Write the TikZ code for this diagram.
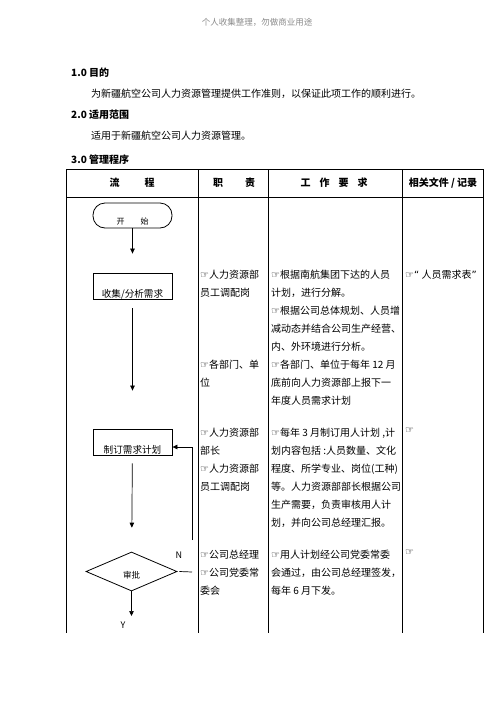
\documentclass[tikz,border=0pt]{standalone}
\usepackage{fontspec}
\setmainfont{Noto Sans CJK SC}
\newfontfamily\symfont{DejaVu Sans}
\usetikzlibrary{arrows.meta,shapes.geometric}
\definecolor{ink}{HTML}{000000}
\definecolor{muted}{HTML}{8A8A8A}
\newcommand{\hand}{{\symfont ☞}}
\tikzset{
  rule/.style={draw=ink, line width=0.7pt},
  flow/.style={draw=ink, line width=0.7pt, -{Triangle[length=5pt,width=4.5pt]}},
  termbox/.style={draw=ink, line width=0.8pt, rounded corners=12pt, minimum width=79pt, minimum height=25pt, inner sep=0pt, text height=17pt, text depth=0pt, font=\fontsize{8}{8}\selectfont},
  procbox/.style={draw=ink, line width=0.8pt, minimum width=79pt, minimum height=26pt, inner sep=0pt, text height=22pt, text depth=0pt, font=\fontsize{9.6}{9.6}\selectfont},
  decision/.style={diamond, draw=ink, line width=0.8pt, minimum width=91pt, minimum height=39pt, inner sep=0pt, text height=14pt, text depth=0pt, font=\fontsize{8.5}{8.5}\selectfont},
  cell/.style={anchor=north west, align=left, inner sep=0pt, font=\fontsize{10}{18}\selectfont},
  head/.style={inner sep=0pt, font=\bfseries\fontsize{10}{10}\selectfont},
  body/.style={anchor=west, inner sep=0pt, font=\fontsize{10}{10}\selectfont},
}

\begin{document}
\begin{tikzpicture}[x=1pt,y=-1pt]
\useasboundingbox (0,0) rectangle (496,702);

% page header and sections
\node[inner sep=0pt, text=muted, font=\fontsize{8.5}{8.5}\selectfont] (pagehead) at (257,22) {个人收集整理，勿做商业用途};
\node[body, font=\bfseries\fontsize{10}{10}\selectfont] (sec1) at (71,73) {1.0 目的};
\node[body] (sec1txt) at (91,94) {为新疆航空公司人力资源管理提供工作准则，以保证此项工作的顺利进行。};
\node[body, font=\bfseries\fontsize{10}{10}\selectfont] (sec2) at (71,115) {2.0 适用范围};
\node[body] (sec2txt) at (91,136) {适用于新疆航空公司人力资源管理。};
\node[body, font=\bfseries\fontsize{10}{10}\selectfont] (sec3) at (71,160) {3.0 管理程序};

% table grid
\draw[rule] (66,169) -- (483,169);
\draw[rule] (66,197) -- (483,197);
\foreach \x in {66,198,268,402,483}
  \draw[rule] (\x,169) -- (\x,633);

% header row
\node[head] (hflow) at (132,183) {流\hspace{25pt}程};
\node[head] (hduty) at (234,183) {职\hspace{22pt}责};
\node[head] (hwork) at (334,183) {工\hspace{9pt}作\hspace{9pt}要\hspace{9pt}求};
\node[head] (hdocs) at (443,183) {相关文件 / 记录};

% flow chart
\node[termbox] (start) at (132.5,215.5) {开\hspace{16pt}始};
\node[procbox] (collect) at (132.5,286) {收集/分析需求};
\node[procbox] (plan) at (132.5,442) {制订需求计划};
\node[decision] (approve) at (131.5,571.5) {审批};
\node[inner sep=0pt, font=\fontsize{9}{9}\selectfont] (no) at (179,555) {N};
\node[inner sep=0pt, font=\fontsize{9}{9}\selectfont] (yes) at (123,625) {Y};
\coordinate (nright) at (192,572);
\coordinate (nturn) at (192,540);
\coordinate (ntop) at (192,447);
\coordinate (yesend) at (131.5,616);

\draw[flow, shorten >=19pt] (start) -- (collect);
\draw[flow, shorten <=9pt, shorten >=38pt] (collect) -- (plan);
\draw[flow, shorten <=8pt, shorten >=24pt] (plan) -- (approve);
\draw[flow] (approve.south) -- (yesend);
\draw[rule] ([xshift=2pt]approve.east) -- (nright);
\draw[flow] (nturn) -- (ntop) -- (plan.east |- ntop);

% duties
\node[cell] (duty1) at (200,270) {\hand 人力资源部\\员工调配岗};
\node[cell] (duty2) at (200,360) {\hand 各部门、单\\位};
\node[cell] (duty3) at (200,428) {\hand 人力资源部\\部长\\\hand 人力资源部\\员工调配岗};
\node[cell] (duty4) at (200,550) {\hand 公司总经理\\\hand 公司党委常\\委会};

% work requirements
\node[cell] (work1) at (271,270) {\hand 根据南航集团下达的人员\\计划，进行分解。\\\hand 根据公司总体规划、人员增\\减动态并结合公司生产经营、\\内、外环境进行分析。\\\hand 各部门、单位于每年 12 月\\底前向人力资源部上报下一\\年度人员需求计划};
\node[cell] (work2) at (271,428) {\hand 每年 3 月制订用人计划 ,计\\划内容包括 :人员数量、文化\\程度、所学专业、岗位(工种)\\等。人力资源部部长根据公司\\生产需要，负责审核用人计\\划，并向公司总经理汇报。};
\node[cell] (work3) at (271,550) {\hand 用人计划经公司党委常委\\会通过，由公司总经理签发，\\每年 6 月下发。};

% documents
\node[cell] (docs1) at (405,270) {\hand{\symfont“} 人员需求表{\symfont”}};
\node[cell] (docs2) at (405,428) {\hand};
\node[cell] (docs3) at (405,550) {\hand};
\end{tikzpicture}
\end{document}
